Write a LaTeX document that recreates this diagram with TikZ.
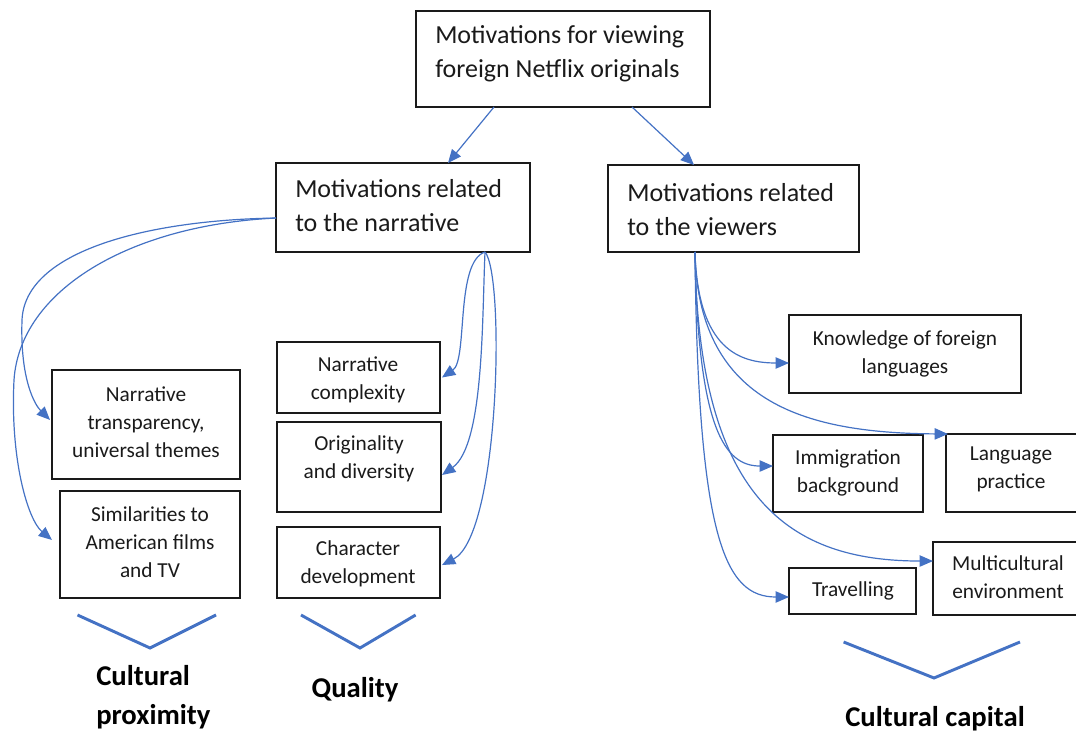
\documentclass[tikz,border=0pt]{standalone}
\usepackage{fontspec}
\setmainfont{Carlito}
\usetikzlibrary{arrows.meta}
\definecolor{linkblue}{HTML}{4472C4}
\definecolor{inkgrey}{HTML}{1A1A1A}
\begin{document}
\begin{tikzpicture}[x=0.75pt,y=-0.75pt,
  box/.style={draw=inkgrey,line width=1pt,inner sep=0pt,outer sep=0pt},
  big/.style={inner sep=0pt,align=left,text=inkgrey,font=\fontsize{19.5}{25.5}\selectfont},
  small/.style={inner sep=0pt,align=center,text=inkgrey,font=\fontsize{16}{21}\selectfont},
  tag/.style={inner sep=0pt,text=black,font=\bfseries\fontsize{21.5}{29}\selectfont},
  link/.style={draw=linkblue,line width=0.9pt,-{Triangle[length=10pt,width=8.5pt]}},
  chev/.style={draw=linkblue,line width=2.2pt}]

\useasboundingbox (0,0) rectangle (1076,734);

% ---------- boxes ----------
\node[box,minimum width=220.5pt,minimum height=72pt]    (top)   at (563,59)      {};
\node[box,minimum width=190.5pt,minimum height=66.75pt] (narr)  at (403,207.5)   {};
\node[box,minimum width=188.25pt,minimum height=65.25pt](view)  at (733.5,208.5) {};

\node[box,minimum width=141pt,minimum height=81.75pt]   (trans) at (146,424.5)   {};
\node[box,minimum width=135pt,minimum height=80.25pt]   (simil) at (150,544.5)   {};

\node[box,minimum width=122.25pt,minimum height=53.25pt](compl) at (358.5,377.5) {};
\node[box,minimum width=123pt,minimum height=67.5pt]    (orig)  at (359,467)     {};
\node[box,minimum width=122.25pt,minimum height=53.25pt](charc) at (358.5,562.5) {};

\node[box,minimum width=174pt,minimum height=58.5pt]    (know)  at (905,354)     {};
\node[box,minimum width=108pt,minimum height=58.5pt]    (lang)  at (1018,473)    {};
\node[box,minimum width=112.5pt,minimum height=57.75pt] (immig) at (848,473.5)   {};
\node[box,minimum width=117.75pt,minimum height=54.75pt](multi) at (1011.5,578.5){};
\node[box,minimum width=95.25pt,minimum height=34.5pt]  (trav)  at (852.5,591)   {};

% ---------- box texts ----------
\node[big,anchor=west] (topT)  at (435,54)    {Motivations for viewing\\foreign Netflix originals};
\node[big,anchor=west] (narrT) at (295,205.5) {Motivations related\\to the narrative};
\node[big,anchor=west] (viewT) at (627,209.5) {Motivations related\\to the viewers};

\node[small] (transT) at (146,422)   {Narrative\\transparency,\\universal themes};
\node[small] (similT) at (150,542)   {Similarities to\\American films\\and TV};
\node[small] (complT) at (358,379.5) {Narrative\\complexity};
\node[small] (origT)  at (359,459)   {Originality\\and diversity};
\node[small] (charT)  at (358,563.5) {Character\\development};
\node[small] (knowT)  at (905,353.5) {Knowledge of foreign\\languages};
\node[small] (langT)  at (1011,469.5) {Language\\practice};
\node[small] (immigT) at (848,473)   {Immigration\\background};
\node[small] (multiT) at (1008,577.5) {Multicultural\\environment};
\node[small] (travT)  at (853,591)   {Travelling};

% ---------- category labels ----------
\node[tag,align=left,anchor=west] (capProx) at (96,697.5) {Cultural\\proximity};
\node[tag] (capQual) at (355,690)   {Quality};
\node[tag] (capCap)  at (935,719)   {Cultural capital};

% ---------- top level links ----------
\draw[link] ([xshift=-51.75pt]top.south) -- ([xshift=33.75pt]narr.north);
\draw[link] ([xshift=51.75pt]top.south) -- ([xshift=-29.6pt]view.north);

% ---------- narrative: left fan ----------
\draw[link] ([yshift=-7.9pt]narr.west) .. controls (150,220) and (25,250) .. (22,320)
            .. controls (20,380) and (35,405) .. ([xshift=-1.5pt,yshift=3.4pt]trans.west);
\draw[link] ([yshift=-7.9pt]narr.west) .. controls (130,225) and (20,290) .. (14,380)
            .. controls (10,460) and (28,520) .. ([xshift=-6pt,yshift=3.4pt]simil.west);

% ---------- narrative: right fan ----------
\draw[link] ([xshift=61.5pt]narr.south) .. controls (455,262) and (468,360) .. ([xshift=1.5pt]compl.east);
\draw[link] ([xshift=61.5pt]narr.south) .. controls (482,320) and (484,445) .. ([xshift=0.8pt,yshift=-6pt]orig.east);
\draw[link] ([xshift=61.5pt]narr.south) .. controls (505,275) and (500,535) .. ([xshift=1.5pt,yshift=-1.9pt]charc.east);

% ---------- viewers fan ----------
\draw[link] ([xshift=-28.9pt]view.south) .. controls (698,350) and (740,363) .. ([yshift=-6.75pt]know.west);
\draw[link] ([xshift=-28.9pt]view.south) .. controls (698,400) and (800,433) .. ([xshift=1.5pt]lang.north west);
\draw[link] ([xshift=-28.9pt]view.south) .. controls (698,430) and (725,466) .. ([yshift=5.6pt]immig.west);
\draw[link] ([xshift=-28.9pt]view.south) .. controls (698,500) and (790,561) .. ([yshift=13.1pt]multi.west);
\draw[link] ([xshift=-28.9pt]view.south) .. controls (698,540) and (725,597) .. ([yshift=-4.5pt]trav.west);

% ---------- grouping chevrons ----------
\draw[chev] (77.5,615) -- (150,648) -- (216,615);
\draw[chev] (301,615) -- (360,648) -- (415.6,615);
\draw[chev] (843.6,642) -- (934,678) -- (1020,642);

\end{tikzpicture}
\end{document}
